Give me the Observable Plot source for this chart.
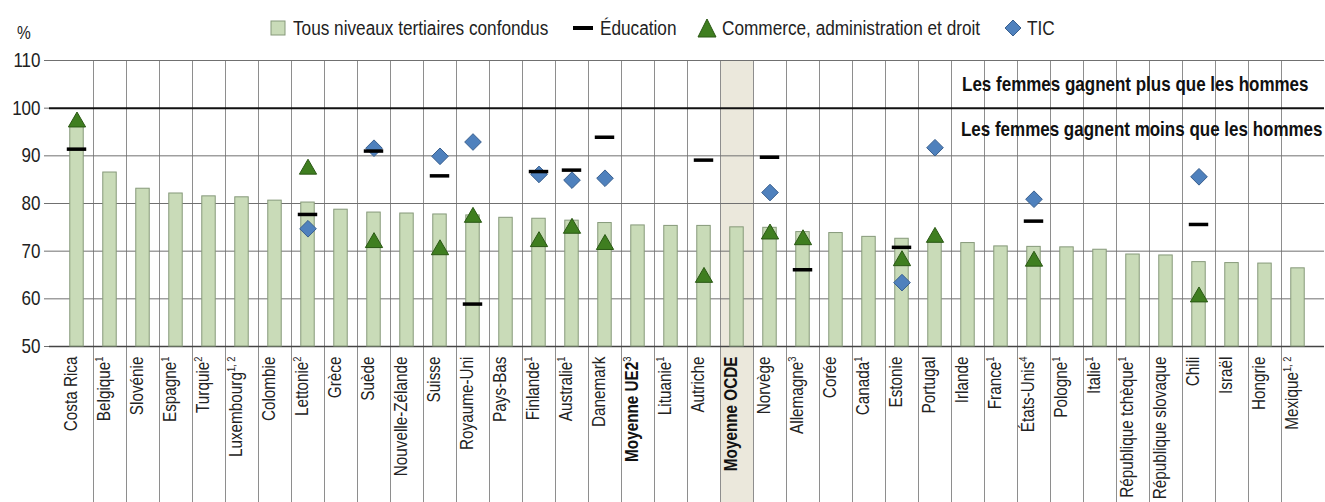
<!DOCTYPE html>
<html>
<head>
<meta charset="utf-8">
<script src="https://cdn.jsdelivr.net/npm/d3@7"></script>
<script src="https://cdn.jsdelivr.net/npm/@observablehq/plot@0.6"></script>
<style>
  body { margin: 0; background: #fff; }
  #wrap { position: relative; width: 1325px; height: 502px; overflow: hidden;
          font-family: 'Liberation Sans', Arial, sans-serif; color: #222; }
  #legend { position: relative; height: 45px; font-size: 20px; }
  #legend .pct { position: absolute; left: 17px; top: 22px; font-size: 18px; line-height: 22px; }
  #legend .item { position: absolute; top: 17px; height: 22px; display: flex; align-items: center; white-space: nowrap; line-height: 22px; }
  #legend .item svg { display: block; margin-right: 7px; }
  #legend .cond { display: inline-block; transform: scaleX(0.86); transform-origin: 0 50%; }
  #chart svg { display: block; }
</style>
</head>
<body>
<div id="wrap">
  <div id="legend"></div>
  <div id="chart"></div>
</div>
<script>
// ---------- Data ----------
const countries = ["Costa Rica","Belgique","Slovénie","Espagne","Turquie","Luxembourg","Colombie","Lettonie","Grèce","Suède",
  "Nouvelle-Zélande","Suisse","Royaume-Uni","Pays-Bas","Finlande","Australie","Danemark","Moyenne UE2","Lituanie","Autriche",
  "Moyenne OCDE","Norvège","Allemagne","Corée","Canada","Estonie","Portugal","Irlande","France","États-Unis",
  "Pologne","Italie","République tchèque","République slovaque","Chili","Israël","Hongrie","Mexique"];
const notes = ["","1","","1","2","1, 2","","2","","",
  "","","","","1","1","","3","1","",
  "","","3","","1","","","","1","4",
  "1","1","1","","","","","1, 2"];
const tertiary = [96.2,86.5,83.1,82.1,81.5,81.3,80.6,80.2,78.7,78.1,
  77.9,77.7,77.5,77.0,76.8,76.4,75.9,75.4,75.3,75.3,
  75.0,74.9,74.0,73.8,73.0,72.6,72.0,71.7,71.0,70.9,
  70.8,70.3,69.3,69.1,67.7,67.5,67.4,66.4];
const education = [91.4,null,null,null,null,null,null,77.7,null,91.0,
  null,85.8,58.9,null,86.7,87.0,93.9,null,null,89.1,
  null,89.7,66.1,null,null,70.8,null,null,null,76.3,
  null,null,null,null,75.6,null,null,null];
const commerce = [97.1,null,null,null,null,null,null,87.2,null,71.8,
  null,70.3,77.1,null,72.0,74.8,71.4,null,null,64.5,
  null,73.6,72.4,null,null,68.0,72.9,null,null,67.9,
  null,null,null,null,60.4,null,null,null];
const tic = [null,null,null,null,null,null,null,74.7,null,91.6,
  null,89.9,92.9,null,86.1,84.9,85.3,null,null,null,
  null,82.3,null,null,null,63.4,91.7,null,null,80.9,
  null,null,null,null,85.6,null,null,null];
const yTicks = [50,60,70,80,90,100,110];
const seriesNames = ["Tous niveaux tertiaires confondus","Éducation","Commerce, administration et droit","TIC"];
const boldLabels = ["Moyenne UE2","Moyenne OCDE"];
const highlight = "Moyenne OCDE";
const annotations = ["Les femmes gagnent plus que les hommes","Les femmes gagnent moins que les hommes"];

// ---------- Styles ----------
const FONT = "'Liberation Sans',Arial,sans-serif";
const CONDENSE = 0.85;  // emulate a narrow (condensed) typeface
const C_BAR = "#c9dbb8", C_BAR_STROKE = "#86997a";
const C_TRI = "#3f7e20", C_TRI_STROKE = "#2a5814";
const C_DIA = "#4f81bd", C_DIA_STROKE = "#395f8e";
const C_GRID = "#707070", C_SEP = "#8e8e8e", C_HIGHLIGHT = "#ebe8dc";

// ---------- Legend ----------
const legendEl = document.getElementById("legend");
legendEl.innerHTML = `
  <span class="pct"><span class="cond">%</span></span>
  <div class="item" style="left:270px"><svg width="16" height="16"><rect x="1" y="1" width="14" height="14" fill="${C_BAR}" stroke="${C_BAR_STROKE}"/></svg><span class="cond">${seriesNames[0]}</span></div>
  <div class="item" style="left:573px"><svg width="20" height="16"><rect x="0" y="6" width="20" height="4" fill="#000"/></svg><span class="cond">${seriesNames[1]}</span></div>
  <div class="item" style="left:697px"><svg width="20" height="20"><path d="M10,1 L19,19 L1,19 Z" fill="${C_TRI}" stroke="${C_TRI_STROKE}"/></svg><span class="cond" style="margin-left:-2px">${seriesNames[2]}</span></div>
  <div class="item" style="left:1004px"><svg width="18" height="18"><path d="M9,1 L17,9 L9,17 L1,9 Z" fill="${C_DIA}" stroke="${C_DIA_STROKE}"/></svg><span class="cond" style="margin-left:-2px">${seriesNames[3]}</span></div>
`;

// ---------- Chart ----------
const W = 1325, H = 457, ML = 49, MR = 1, MT = 15, MB = 156;
const data = countries.map((c, i) => ({c, note: notes[i], t: tertiary[i], e: education[i], m: commerce[i], k: tic[i]}));
const isBold = new Set(boldLabels);
const bw = (W - ML - MR) / countries.length;
const barInset = (bw - 14) / 2;
const tickInset = (bw - 20) / 2;

const chart = Plot.plot({
  width: W, height: H,
  marginTop: MT, marginBottom: MB, marginLeft: ML, marginRight: MR,
  style: {fontFamily: FONT, fontSize: "18px", color: "#222", background: "transparent", overflow: "visible"},
  x: {type: "band", domain: countries, padding: 0, axis: null},
  y: {domain: [50, 110], axis: null},
  marks: [
    Plot.ruleY(yTicks.filter(v => v !== 50 && v !== 100), {stroke: C_GRID, strokeWidth: 1}),
    Plot.axisY({ticks: yTicks, tickSize: 5, tickPadding: 4, fontSize: 20, stroke: C_GRID, tickFormat: d => d}),
    Plot.ruleY([100], {stroke: "#111", strokeWidth: 2}),
    Plot.ruleY([50], {stroke: "#444", strokeWidth: 1.5}),
    Plot.barY(data, {x: "c", y1: 50, y2: "t", fill: C_BAR, stroke: C_BAR_STROKE, strokeWidth: 1,
      insetLeft: barInset, insetRight: barInset}),
    Plot.dot(data.filter(d => d.k != null), {x: "c", y: "k", symbol: "diamond2", r: 7.5,
      fill: C_DIA, stroke: C_DIA_STROKE, strokeWidth: 1}),
    Plot.dot(data.filter(d => d.m != null), {x: "c", y: "m", symbol: "triangle", r: 6.4,
      fill: C_TRI, stroke: C_TRI_STROKE, strokeWidth: 1}),
    Plot.tickY(data.filter(d => d.e != null), {x: "c", y: "e", stroke: "#000", strokeWidth: 3.5,
      insetLeft: tickInset, insetRight: tickInset}),
    Plot.text([annotations[0]], {frameAnchor: "right", y: 105, dx: -16, textAnchor: "end",
      fontWeight: "bold", fontSize: 20, fill: "#111"}),
    Plot.text([annotations[1]], {frameAnchor: "right", y: 95.5, dx: -2, textAnchor: "end",
      fontWeight: "bold", fontSize: 20, fill: "#111"}),
    Plot.text(data.filter(d => !isBold.has(d.c)), {x: "c", text: "c", frameAnchor: "bottom", rotate: -90,
      textAnchor: "end", dy: 10, fontSize: 18, fill: "#222", className: "xlab"}),
    Plot.text(data.filter(d => isBold.has(d.c)), {x: "c", text: "c", frameAnchor: "bottom", rotate: -90,
      textAnchor: "end", dy: 10, fontSize: 18, fontWeight: "bold", fill: "#111", className: "xlab"})
  ]
});

// Band separators and highlighted column, positioned from Plot's own scales
const xs = chart.scale("x"), ys = chart.scale("y");
const yTop = ys.apply(110);
const ns = "http://www.w3.org/2000/svg";
const bg = document.createElementNS(ns, "g");
const hx = xs.apply(highlight);
const hr = document.createElementNS(ns, "rect");
hr.setAttribute("x", hx); hr.setAttribute("y", yTop);
hr.setAttribute("width", xs.bandwidth); hr.setAttribute("height", H - yTop);
hr.setAttribute("fill", C_HIGHLIGHT);
bg.appendChild(hr);
countries.slice(1).forEach(c => {
  const x = Math.round(xs.apply(c)) + 0.5;
  const ln = document.createElementNS(ns, "line");
  ln.setAttribute("x1", x); ln.setAttribute("x2", x);
  ln.setAttribute("y1", yTop); ln.setAttribute("y2", H);
  ln.setAttribute("stroke", C_SEP); ln.setAttribute("stroke-width", 1);
  bg.appendChild(ln);
});
const styleEl = chart.querySelector("style");
chart.insertBefore(bg, styleEl ? styleEl.nextSibling : chart.firstChild);

// Superscript notes on category labels
const noteOf = new Map(data.map(d => [d.c, d.note]));
chart.querySelectorAll("g.xlab text").forEach(t => {
  const name = t.textContent;
  const n = noteOf.get(name);
  if (n) {
    const ts = document.createElementNS(ns, "tspan");
    ts.setAttribute("font-size", "11");
    ts.setAttribute("font-weight", "normal");
    ts.setAttribute("dy", "-7");
    ts.textContent = n;
    t.appendChild(ts);
  }
});

document.getElementById("chart").appendChild(chart);

// Condense all chart texts horizontally (in their own frame) to mimic the narrow typeface
chart.querySelectorAll("text").forEach(t => {
  const tr = t.getAttribute("transform");
  if (tr) {
    t.setAttribute("transform", `${tr} scale(${CONDENSE},1)`);
  } else {
    const x = +(t.getAttribute("x") || 0);
    t.setAttribute("transform", `translate(${x},0) scale(${CONDENSE},1) translate(${-x},0)`);
  }
});
</script>
</body>
</html>
